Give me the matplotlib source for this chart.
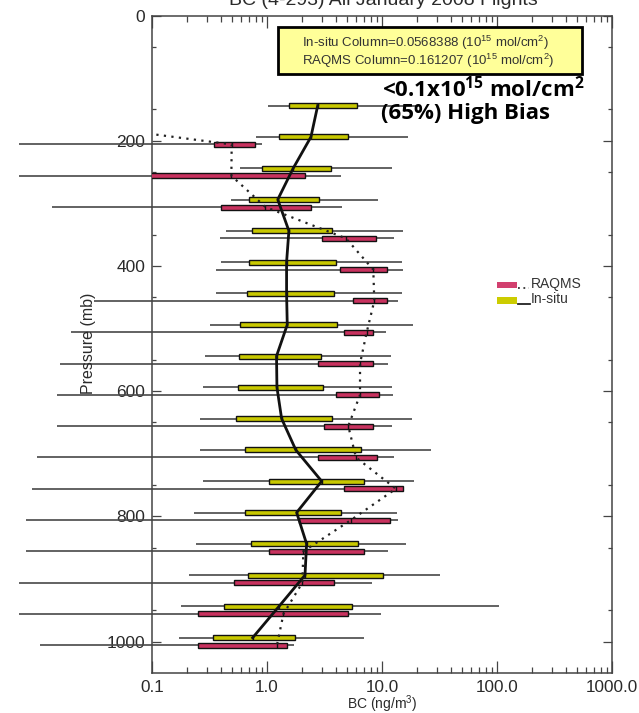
import numpy as np
import matplotlib
matplotlib.use("Agg")
import matplotlib.pyplot as plt
from matplotlib.patches import Rectangle
from matplotlib.lines import Line2D
from matplotlib.ticker import FixedLocator, NullFormatter

plt.rcParams['font.family'] = ['Liberation Sans', 'DejaVu Sans']
plt.rcParams['mathtext.default'] = 'regular'

# Pressure levels (mb)
pressure = [150, 200, 250, 300, 350, 400, 450, 500, 550, 600,
            650, 700, 750, 800, 850, 900, 950, 1000]

# In-situ BC statistics (ng/m3): whisker low, lower quartile, median, upper quartile, whisker high
insitu_lo = [1.03, 0.81, 0.58, 0.49, 0.44, 0.40, 0.36, 0.32, 0.29, 0.28,
             0.26, 0.26, 0.28, 0.23, 0.24, 0.21, 0.18, 0.17]
insitu_q1 = [1.56, 1.27, 0.91, 0.70, 0.74, 0.70, 0.67, 0.58, 0.57, 0.56,
             0.54, 0.64, 1.04, 0.64, 0.72, 0.68, 0.42, 0.34]
insitu_med = [2.76, 2.41, 1.69, 1.24, 1.55, 1.48, 1.48, 1.50, 1.21, 1.22,
              1.34, 1.78, 2.99, 1.81, 2.21, 2.14, 1.27, 0.75]
insitu_q3 = [6.10, 5.03, 3.58, 2.83, 3.70, 4.01, 3.83, 4.04, 2.95, 3.05,
             3.70, 6.53, 6.93, 4.40, 6.15, 10.3, 5.45, 1.75]
insitu_hi = [20.6, 16.9, 12.1, 9.18, 15.3, 14.8, 14.9, 18.7, 11.9, 12.1,
             18.1, 26.5, 19.0, 13.4, 16.1, 31.9, 105.0, 6.97]

# RAQMS BC statistics (ng/m3)
nan = np.nan
raqms_lo = [nan, 0.0070, 0.0070, 0.0134, 0.39, 0.36, 0.0315, 0.0196, 0.0160, 0.0149,
            0.0148, 0.0101, 0.0091, 0.0081, 0.0081, 0.0070, 0.0070, 0.0106]
raqms_q1 = [nan, 0.346, 0.021, 0.40, 2.99, 4.29, 5.56, 4.67, 2.79, 3.96,
            3.13, 2.76, 4.67, 1.90, 1.04, 0.52, 0.25, 0.25]
raqms_med = [0.004, 0.493, 0.49, 0.97, 4.86, 8.40, 8.57, 7.36, 6.44, 6.44,
             5.09, 5.94, 13.2, 5.37, 2.07, 2.03, 1.39, 1.22]
raqms_q3 = [nan, 0.79, 2.14, 2.43, 8.81, 11.1, 10.99, 8.40, 8.30, 9.36,
            8.30, 8.99, 15.2, 11.7, 6.93, 3.85, 5.09, 1.48]
raqms_hi = [nan, 0.90, 4.40, 4.46, 12.7, 15.1, 13.9, 10.8, 11.3, 12.5,
            12.3, 12.6, 15.2, 13.7, 11.3, 8.13, 9.80, 1.72]

x_ticks = [0.1, 1.0, 10.0, 100.0, 1000.0]
x_tick_labels = ["0.1", "1.0", "10.0", "100.0", "1000.0"]
y_ticks = [0, 200, 400, 600, 800, 1000]

insitu_text = "In-situ Column=0.0568388 (10$^{15}$ mol/cm$^{2}$)"
raqms_text = "RAQMS Column=0.161207 (10$^{15}$ mol/cm$^{2}$)"

YELLOW = '#C8C800'
PINK = '#C8325F'
FRAME = '#444444'
TXT = '#2a2a2a'

W, H = 639, 713
fig = plt.figure(figsize=(W / 100, H / 100), dpi=100)


def fx(px):
    return px / W


def fy(py):
    return 1 - py / H


ax = fig.add_axes([fx(152), fy(672.8), fx(612) - fx(152), fy(15.5) - fy(672.8)])
ax.set_xscale('log')
ax.set_xlim(0.1, 1000)
ax.set_ylim(1050, 0)

p = np.array(pressure, dtype=float)
off = 6.0
box_h = 8.0


def draw_set(lo, q1, med, q3, hi, ypos, color):
    lo, q1, med, q3, hi = map(np.asarray, (lo, q1, med, q3, hi))
    ok = ~np.isnan(q1)
    ax.hlines(ypos[ok], lo[ok], hi[ok], color='#484848', lw=1.2,
              clip_on=False, zorder=2)
    ax.barh(ypos[ok], (q3 - q1)[ok], left=q1[ok], height=box_h,
            color=color, edgecolor='#111111', linewidth=1.0, zorder=3)
    ax.vlines(med[ok], ypos[ok] - box_h / 2, ypos[ok] + box_h / 2,
              color='#111111', lw=1.0, zorder=4)


draw_set(insitu_lo, insitu_q1, insitu_med, insitu_q3, insitu_hi, p - off, YELLOW)
draw_set(raqms_lo, raqms_q1, raqms_med, raqms_q3, raqms_hi, p + off, PINK)

ax.plot(insitu_med, p - off, color='#111111', lw=2.0, zorder=5)
ax.plot(raqms_med, p + off, color='#222222', lw=1.6,
        linestyle=(0, (1, 2.4)), zorder=5)

# axes styling
for s in ax.spines.values():
    s.set_color(FRAME)
    s.set_linewidth(1.1)
ax.xaxis.set_major_locator(FixedLocator(x_ticks))
ax.set_xticklabels(x_tick_labels)
minor = [m * d for d in (0.1, 1, 10, 100) for m in range(2, 10)]
ax.xaxis.set_minor_locator(FixedLocator(minor))
ax.xaxis.set_minor_formatter(NullFormatter())
ax.yaxis.set_major_locator(FixedLocator(y_ticks))
ax.yaxis.set_minor_locator(FixedLocator(np.arange(50, 1050, 100)))
ax.tick_params(axis='x', which='major', direction='in', length=8.5, width=0.9,
               color=FRAME, top=True, pad=5, labelsize=12.3, labelcolor=TXT)
ax.tick_params(axis='x', which='minor', direction='in', length=4.3, width=0.9,
               color=FRAME, top=True)
ax.tick_params(axis='y', which='major', direction='in', length=6.3, width=0.9,
               color=FRAME, right=True, pad=5, labelsize=12.5, labelcolor=TXT)
ax.tick_params(axis='y', which='minor', direction='in', length=3.0, width=0.9,
               color=FRAME, right=True)

fig.text(fx(382), fy(704.5), "BC (ng/m$^{3}$)", ha='center', va='center',
         fontsize=10, color=TXT)
fig.text(fx(88), fy(343), "Pressure (mb)", ha='center', va='center',
         rotation=90, fontsize=11.5, color=TXT)
fig.text(fx(383), fy(5), "BC (4-293) All January 2008 Flights", ha='center',
         va='baseline', fontsize=14, color=TXT)

# column summary box
fig.add_artist(Rectangle((fx(277.7), fy(74)), fx(582.3) - fx(277.7), fy(26.7) - fy(74),
                         transform=fig.transFigure, facecolor='#FFFF99',
                         edgecolor='black', linewidth=2.0, zorder=6))
fig.text(fx(301.5), fy(42.5), insitu_text, ha='left', va='center',
         fontsize=9.5, color='#333333', zorder=7)
fig.text(fx(301.5), fy(61), raqms_text, ha='left', va='center',
         fontsize=9.5, color='#333333', zorder=7)

# bias annotation
fig.text(fx(382), fy(89), "<0.1x10$^{15}$ mol/cm$^{2}$", ha='left', va='center',
         fontsize=16, fontweight='bold', family=['Open Sans', 'DejaVu Sans'],
         color='black', zorder=7)
fig.text(fx(381), fy(114), "(65%) High Bias", ha='left', va='center',
         fontsize=16, fontweight='bold', family=['Open Sans', 'DejaVu Sans'],
         color='black', zorder=7)

# legend
fig.add_artist(Rectangle((fx(496.7), fy(288)), fx(517) - fx(496.7), fy(282) - fy(288),
                         transform=fig.transFigure, facecolor='#D2406F',
                         edgecolor='none', zorder=6))
fig.add_artist(Line2D([fx(518), fx(529)], [fy(288), fy(288)], transform=fig.transFigure,
                      color='#333333', lw=1.3, linestyle=(0, (1, 2)), zorder=6))
fig.text(fx(531), fy(284), "RAQMS", ha='left', va='center', fontsize=10,
         color='#333333')
fig.add_artist(Rectangle((fx(496.7), fy(303.5)), fx(517) - fx(496.7), fy(297.5) - fy(303.5),
                         transform=fig.transFigure, facecolor='#CCCC00',
                         edgecolor='none', zorder=6))
fig.add_artist(Line2D([fx(518), fx(530)], [fy(304), fy(304)], transform=fig.transFigure,
                      color='#222222', lw=1.3, zorder=6))
fig.text(fx(531), fy(299), "In-situ", ha='left', va='center', fontsize=10,
         color='#333333')

fig.savefig("out.png", dpi=100)
